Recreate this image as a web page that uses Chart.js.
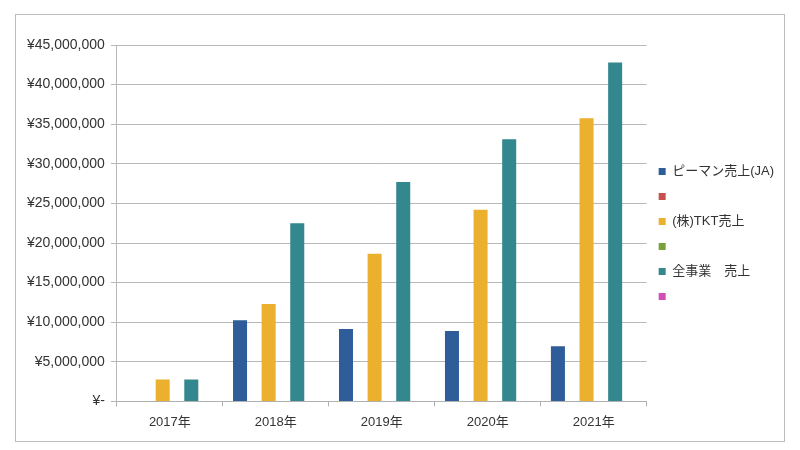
<!DOCTYPE html>
<html>
<head>
<meta charset="utf-8">
<script src="https://cdn.jsdelivr.net/npm/chart.js@4.4.0/dist/chart.umd.min.js"></script>
<style>
  html, body { margin: 0; padding: 0; background: #fff; }
  #box {
    position: absolute; left: 15px; top: 14px;
    width: 768px; height: 426px;
    border: 1px solid #bdbdbd;
  }
</style>
</head>
<body>
<div id="box"><canvas id="myChart"></canvas></div>
<script>
// categories and series (yen)
var years = ['2017年', '2018年', '2019年', '2020年', '2021年'];
var pimanJA = [null, 10250000, 9150000, 8900000, 6950000];
var emptyRed = [null, null, null, null, null];
var tktSales = [2750000, 12300000, 18650000, 24200000, 35750000];
var emptyGreen = [null, null, null, null, null];
var allSales = [2750000, 22500000, 27700000, 33100000, 42800000];
var emptyPink = [null, null, null, null, null];
var yTickLabels = ['¥-', '¥5,000,000', '¥10,000,000', '¥15,000,000', '¥20,000,000',
  '¥25,000,000', '¥30,000,000', '¥35,000,000', '¥40,000,000', '¥45,000,000'];

var font = '"Liberation Sans", Arial, "Noto Sans CJK JP", sans-serif';

var ctx = document.getElementById('myChart');

var data = {
    labels: years,
    datasets: [
        { label: 'ピーマン売上(JA)', data: pimanJA, backgroundColor: '#2f5d99' },
        { label: '', data: emptyRed, backgroundColor: '#c8504d' },
        { label: '(株)TKT売上', data: tktSales, backgroundColor: '#ebb02d' },
        { label: '', data: emptyGreen, backgroundColor: '#78a239' },
        { label: '全事業　売上', data: allSales, backgroundColor: '#33878f' },
        { label: '', data: emptyPink, backgroundColor: '#d44fb3' }
    ]
};

var options = {
    responsive: true,
    maintainAspectRatio: false,
    animation: false,
    datasets: { bar: { categoryPercentage: 0.81, barPercentage: 0.98 } },
    layout: { padding: { top: 15, left: 5, right: 0, bottom: 3 } },
    plugins: {
        tooltip: { enabled: false },
        // blank spacer above the plot only (not above the legend)
        title: {
            display: true,
            text: '',
            fullSize: false,
            font: { size: 10 },
            padding: { top: 0, bottom: 3 }
        },
        legend: {
            position: 'right',
            labels: {
                boxWidth: 7,
                boxHeight: 7,
                padding: 12,
                color: '#333',
                font: { family: font, size: 13 }
            }
        }
    },
    scales: {
        x: {
            grid: { offset: true, drawOnChartArea: false, drawTicks: true, tickLength: 5, color: '#b0b0b0' },
            border: { color: '#b0b0b0' },
            ticks: { color: '#333', padding: 8, font: { family: font, size: 13 } }
        },
        y: {
            min: 0,
            max: 45000000,
            ticks: {
                stepSize: 5000000,
                color: '#333',
                padding: 6,
                font: { family: font, size: 14 },
                callback: function (value, index) { return yTickLabels[index]; }
            },
            grid: { color: '#b8b8b8', tickLength: 6 },
            border: { color: '#b8b8b8' }
        }
    }
};

var chart = new Chart(ctx, {
    type: 'bar',
    data: data,
    options: options
});
</script>
</body>
</html>
